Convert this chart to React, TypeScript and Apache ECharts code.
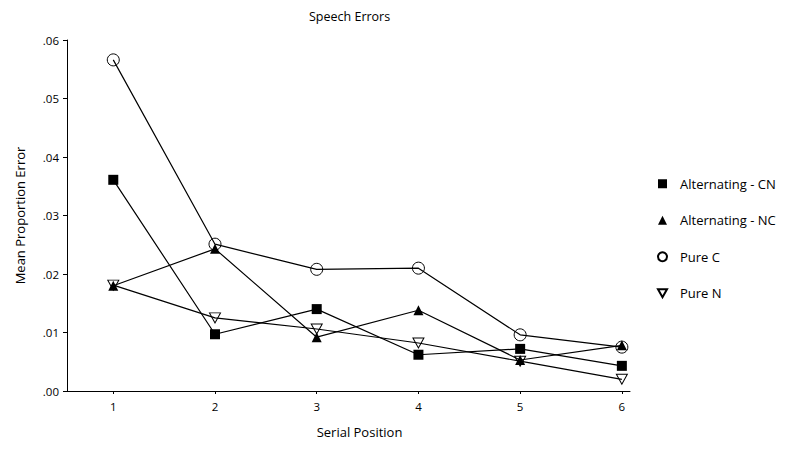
import React, { useEffect, useRef } from "react";
import * as echarts from "echarts";

const positions = [1, 2, 3, 4, 5, 6];
const seriesNames = ["Alternating - CN", "Alternating - NC", "Pure C", "Pure N"];
const altCN = [0.0361, 0.0097, 0.014, 0.0062, 0.0072, 0.0043];
const altNC = [0.018, 0.0243, 0.0092, 0.0138, 0.0053, 0.0078];
const pureC = [0.0566, 0.0251, 0.0208, 0.021, 0.0096, 0.0075];
const pureN = [0.0181, 0.0125, 0.0106, 0.0082, 0.0051, 0.002];
const yTicks = [0, 0.01, 0.02, 0.03, 0.04, 0.05, 0.06];

const FONT = "'Open Sans', 'Noto Sans', sans-serif";
const DOWN_TRI = "path://M0,0L10,0L5,8.66Z";

export default function App() {
  const ref = useRef<HTMLDivElement>(null);
  useEffect(() => {
    if (!ref.current) return;
    const chart = echarts.init(ref.current, null, { renderer: "svg" });
    const pair = (arr: number[]) => positions.map((p, i) => [p, arr[i]]);
    const line = { color: "#000", width: 1.2 };
    chart.setOption({
      animation: false,
      backgroundColor: "#fff",
      textStyle: { fontFamily: FONT, color: "#000" },
      title: {
        text: "Speech Errors",
        left: 304,
        top: 5,
        textStyle: { fontFamily: FONT, fontSize: 12.5, fontWeight: "normal", color: "#000" },
      },
      legend: {
        orient: "vertical",
        left: 652,
        top: 171,
        itemWidth: 9,
        itemHeight: 9,
        itemGap: 21,
        textStyle: { fontFamily: FONT, fontSize: 13, color: "#000", lineHeight: 15.5, padding: [0, 0, 0, 8] },
        data: [
          { name: seriesNames[0], icon: "rect" },
          { name: seriesNames[1], icon: "triangle" },
          { name: seriesNames[2], icon: "circle" },
          { name: seriesNames[3], icon: DOWN_TRI },
        ],
      },
      grid: { left: 67, right: 155, top: 40, bottom: 58 },
      xAxis: {
        type: "value",
        min: 0.545,
        max: 6.08,
        name: "Serial Position",
        nameLocation: "middle",
        nameGap: 34,
        nameTextStyle: { fontFamily: FONT, fontSize: 13, color: "#000", padding: [0, 0, 0, 22] },
        axisLine: { lineStyle: { color: "#000", width: 1 } },
        axisTick: { show: true, length: 3, customValues: positions, lineStyle: { color: "#000" } },
        axisLabel: { customValues: positions, margin: 9, fontSize: 11.5, color: "#000", fontFamily: FONT },
        splitLine: { show: false },
      },
      yAxis: {
        type: "value",
        min: 0,
        max: 0.06,
        interval: 0.01,
        name: "Mean Proportion Error",
        nameLocation: "middle",
        nameGap: 41,
        nameTextStyle: { fontFamily: FONT, fontSize: 13, color: "#000" },
        axisLine: { show: true, lineStyle: { color: "#000", width: 1 } },
        axisTick: { show: true, length: 4, customValues: yTicks, lineStyle: { color: "#000" } },
        axisLabel: {
          margin: 8,
          fontSize: 11.5,
          color: "#000",
          fontFamily: FONT,
          formatter: (v: number) => v.toFixed(2).replace(/^0/, ""),
        },
        splitLine: { show: false },
      },
      series: [
        {
          name: seriesNames[0],
          type: "line",
          data: pair(altCN),
          symbol: "rect",
          symbolSize: 10,
          lineStyle: line,
          itemStyle: { color: "#000" },
        },
        {
          name: seriesNames[1],
          type: "line",
          data: pair(altNC),
          symbol: "triangle",
          symbolSize: 10,
          lineStyle: line,
          itemStyle: { color: "#000" },
        },
        {
          name: seriesNames[2],
          type: "line",
          data: pair(pureC),
          symbol: "circle",
          symbolSize: 12,
          showAllSymbol: true,
          lineStyle: line,
          itemStyle: { color: "rgba(0,0,0,0)", borderColor: "#000", borderWidth: 1 },
        },
        {
          name: seriesNames[3],
          type: "line",
          data: pair(pureN),
          symbol: DOWN_TRI,
          symbolSize: [11, 10],
          lineStyle: line,
          itemStyle: { color: "rgba(0,0,0,0)", borderColor: "#000", borderWidth: 1 },
        },
      ],
    });
    return () => chart.dispose();
  }, []);
  return (
    <div
      ref={ref}
      style={{ position: "absolute", left: 0, top: 0, width: 785, height: 449 }}
    />
  );
}
